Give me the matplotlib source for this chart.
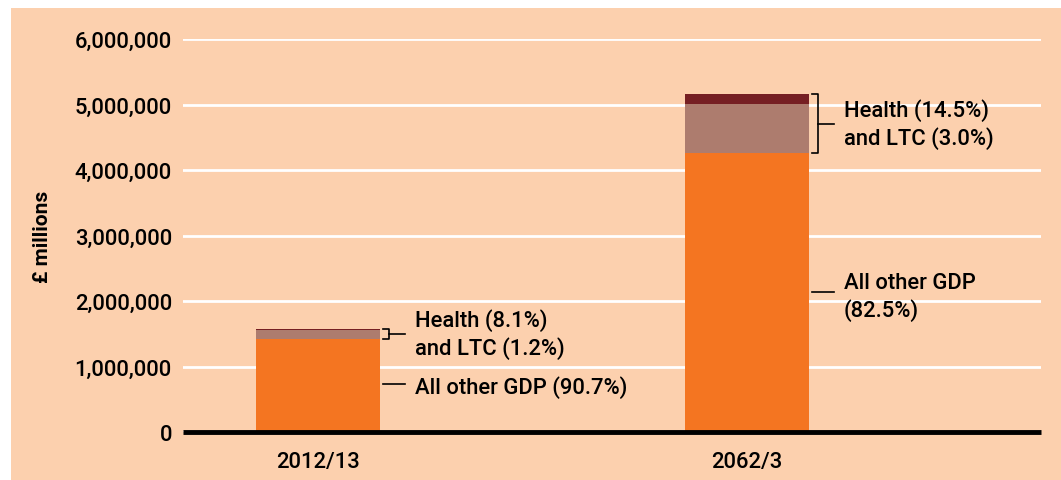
import matplotlib
matplotlib.use("Agg")
import matplotlib.pyplot as plt
from matplotlib.patches import Rectangle
from matplotlib.ticker import FuncFormatter

categories = ["2012/13", "2062/3"]
other_gdp = [1427000, 4257000]
health = [127000, 748000]
ltc = [19000, 155000]
labels_health = ["Health (8.1%)\nand LTC (1.2%)", "Health (14.5%)\nand LTC (3.0%)"]
labels_other = ["All other GDP (90.7%)", "All other GDP\n(82.5%)"]
yticks = [0, 1000000, 2000000, 3000000, 4000000, 5000000, 6000000]

BG = "#FCD0AE"
ORANGE = "#F47521"
GREY = "#AD7C6E"
DARK = "#761F23"

plt.rcParams['font.family'] = ['Roboto', 'DejaVu Sans']
FS = 15.8
FW = "medium"
W, H = 1061, 481
fig = plt.figure(figsize=(W/100, H/100), dpi=100, facecolor="white")
fig.patches.append(Rectangle((11/W, 0), 1 - 11/W, 1 - 9/H, transform=fig.transFigure,
                             facecolor=BG, edgecolor="none", zorder=-10))
ax = fig.add_axes([183/W, 1 - 433/H, (1041-183)/W, (433-40)/H])
ax.set_zorder(2)
ax.set_facecolor("none")

x = list(range(len(categories)))
bw = 0.289
ax.bar(x, other_gdp, width=bw, color=ORANGE, zorder=3)
ax.bar(x, health, width=bw, bottom=other_gdp, color=GREY, zorder=3)
b2 = [o + h for o, h in zip(other_gdp, health)]
ax.bar(x, ltc, width=bw, bottom=b2, color=DARK, zorder=3)

ax.set_xlim(-0.315, 1.685)
ax.set_ylim(0, 6000000)
ax.set_yticks(yticks)
ax.yaxis.set_major_formatter(FuncFormatter(lambda v, p: f"{int(v):,}"))
ax.grid(axis="y", color="white", lw=2, zorder=1)
ax.tick_params(axis="both", length=0, labelsize=FS, colors="black")
ax.tick_params(axis="y", pad=8)
ax.tick_params(axis="x", pad=14)
ax.set_xticks(x)
ax.set_xticklabels(categories)
for lab in ax.get_xticklabels() + ax.get_yticklabels():
    lab.set_fontweight(FW)
for s in ["top", "right", "left"]:
    ax.spines[s].set_visible(False)
ax.spines["bottom"].set_linewidth(3.5)
ax.spines["bottom"].set_zorder(5)
ax.spines["bottom"].set_capstyle("butt")
ax.set_ylabel("£ millions", fontsize=15, fontweight="bold", labelpad=16)

lk = dict(color="black", lw=1.2, zorder=4)
for i in x:
    lo = other_gdp[i]
    hi = other_gdp[i] + health[i] + ltc[i]
    mid = (lo + hi) / 2
    bx0 = i + 0.152
    bx1 = i + 0.166
    ax.plot([bx0, bx1, bx1, bx0], [hi, hi, lo, lo], **lk)
    ax.plot([bx1, i + 0.203], [mid, mid], **lk)
    ax.text(i + 0.226, mid, labels_health[i], fontsize=FS, fontweight=FW,
            va="center", ha="left", linespacing=1.3)

# other GDP labels
leader_y = [740000, 2137000]
text_y = [700000, 2070000]
for i in x:
    ax.plot([i + 0.152, i + 0.203], [leader_y[i], leader_y[i]], **lk)
    ax.text(i + 0.226, text_y[i], labels_other[i], fontsize=FS, fontweight=FW,
            va="center", ha="left", linespacing=1.3)

fig.savefig("out.png", dpi=100, facecolor="white")
